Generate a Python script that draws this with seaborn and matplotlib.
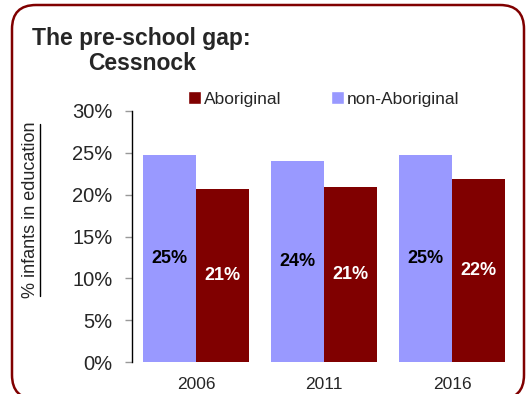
import pandas as pd
import matplotlib
matplotlib.use("Agg")
import matplotlib.pyplot as plt
import matplotlib.transforms as mtransforms
from matplotlib.patches import FancyBboxPatch, Patch
from matplotlib.lines import Line2D
import seaborn as sns

# values (% of infants in pre-school education)
years = ["2006", "2011", "2016"]
non_aboriginal = [24.8, 24.0, 24.8]
aboriginal = [20.7, 20.9, 21.9]
y_ticks = [0, 5, 10, 15, 20, 25, 30]

PURPLE = "#9999FF"
MAROON = "#800000"

df = pd.DataFrame({
    "year": years * 2,
    "value": non_aboriginal + aboriginal,
    "group": ["non-Aboriginal"] * 3 + ["Aboriginal"] * 3,
})

sns.set_style("white")
plt.rcParams["font.family"] = ["Liberation Sans", "DejaVu Sans"]

W, H = 531, 394
fig = plt.figure(figsize=(W / 100, H / 100), dpi=100)
ax = fig.add_axes([132 / W, 1 - 362 / H, (516 - 132) / W, (362 - 111) / H])

sns.barplot(data=df, x="year", y="value", hue="group",
            hue_order=["non-Aboriginal", "Aboriginal"],
            palette={"non-Aboriginal": PURPLE, "Aboriginal": MAROON},
            width=0.833, saturation=1, linewidth=0, legend=False, ax=ax)

# labels in the middle of each bar
for cont, vals, col in zip(ax.containers, [non_aboriginal, aboriginal], ["black", "white"]):
    ax.bar_label(cont, labels=[f"{v:.0f}%" for v in vals], label_type="center",
                 color=col, fontsize=13, fontweight="bold")

ax.set_ylim(0, 30)
ax.set_xlim(-0.5, 2.5)
ax.set_yticks(y_ticks)
ax.set_yticklabels([f"{t}%" for t in y_ticks], fontsize=14.5)
ax.tick_params(axis="y", length=5, width=1, color="#999999", pad=9, left=True)
ax.tick_params(axis="x", length=0, pad=11, labelsize=12.5)
ax.set_xlabel("")
ax.set_ylabel("")
for s in ["top", "right", "bottom"]:
    ax.spines[s].set_visible(False)
ax.spines["left"].set_color("black")
ax.spines["left"].set_linewidth(1)

# title
fig.text(32 / W, 1 - 38 / H, "The pre-school gap:", fontsize=16.5, fontweight="bold",
         ha="left", va="center")
fig.text(88 / W, 1 - 63 / H, "Cessnock", fontsize=16.5, fontweight="bold",
         ha="left", va="center")

# legend (Aboriginal listed first)
handles = [Patch(facecolor=MAROON, label="Aboriginal"),
           Patch(facecolor=PURPLE, label="non-Aboriginal")]
fig.legend(handles=handles, loc="center left", bbox_to_anchor=(188 / W, 1 - 99 / H),
           ncol=2, frameon=False, fontsize=12.5, handlelength=0.75, handleheight=0.75,
           handletextpad=0.15, columnspacing=2.9, borderpad=0, borderaxespad=0)

# underlined y label
ylab = fig.text(31 / W, 1 - 210 / H, "% infants in education", rotation=90,
                fontsize=13, ha="center", va="center")
fig.canvas.draw()
bb = ylab.get_window_extent()
fig.add_artist(Line2D([bb.x1 / W, bb.x1 / W], [(bb.y0 + 2) / H, (bb.y1 - 2) / H],
                      transform=fig.transFigure, color="black", lw=1))

# rounded frame around the whole chart (bottom edge runs just off the image)
frame = FancyBboxPatch((12, -5), 512, 394, boxstyle="round,pad=0,rounding_size=24",
                       transform=mtransforms.IdentityTransform(),
                       facecolor="none", edgecolor=MAROON, lw=1.8)
fig.add_artist(frame)

fig.savefig("out.png", dpi=100)
